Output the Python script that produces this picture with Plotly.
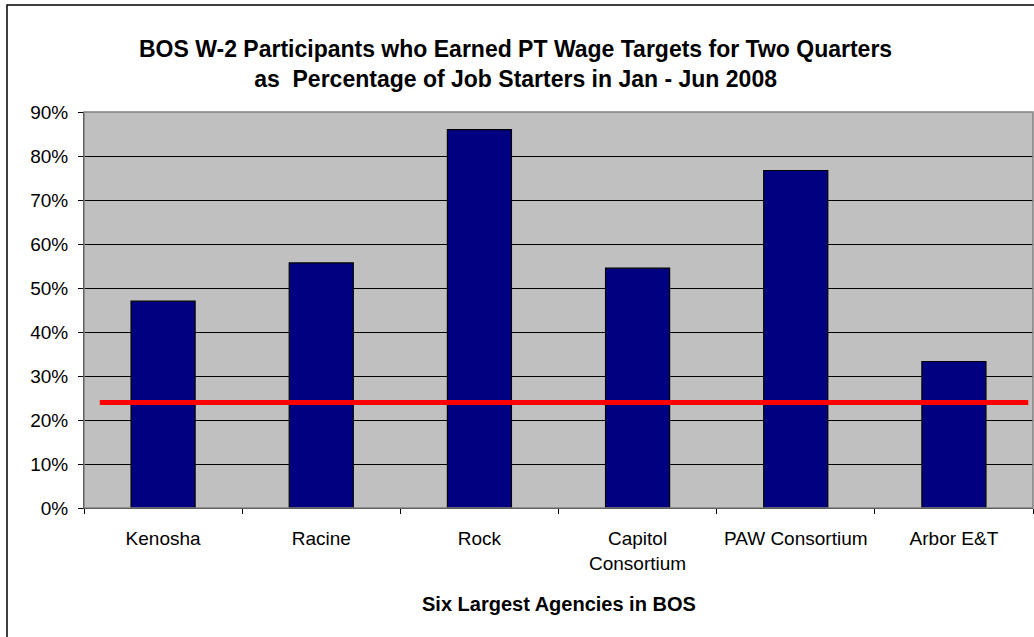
import plotly.graph_objects as go

categories = ["Kenosha", "Racine", "Rock", "Capitol<br>Consortium", "PAW Consortium", "Arbor E&T"]
rates = [0.470, 0.557, 0.860, 0.545, 0.767, 0.333]
target_rate = [0.24, 0.24]
target_span = [-0.40, 5.47]

title_text = ("<b>BOS W-2 Participants who Earned PT Wage Targets for Two Quarters<br>"
              "as  Percentage of Job Starters in Jan - Jun 2008</b>")
x_title = "<b>Six Largest Agencies in BOS</b>"
y_ticks = [i / 10 for i in range(10)]

FONT = "Liberation Sans, Arial, sans-serif"
W, H = 1034, 637
L, R, T, B = 84, 1033, 112, 508
pw, ph = R - L, B - T

fig = go.Figure()
fig.add_trace(go.Bar(
    x=categories, y=rates,
    marker=dict(color="#000080", line=dict(color="#000000", width=1.2)),
    width=0.405, showlegend=False, hoverinfo="skip",
))
fig.add_trace(go.Scatter(
    x=target_span, y=target_rate, xaxis="x2", mode="lines",
    line=dict(color="#FF0000", width=5), showlegend=False, hoverinfo="skip",
))

def px_x(p):
    return (p - L) / pw

def px_y(p):
    return (B - p) / ph

fig.update_layout(
    width=W, height=H,
    margin=dict(l=L, r=W - R, t=T, b=H - B, pad=0),
    paper_bgcolor="#FFFFFF",
    plot_bgcolor="#C0C0C0",
    font=dict(family=FONT, color="#000000", size=19),
    xaxis=dict(
        type="category", range=[-0.5, 5.5],
        showgrid=False, zeroline=False,
        showline=True, linecolor="#000000", linewidth=1,
        ticks="outside", tickson="boundaries", ticklen=5, tickcolor="#000000",
        tickfont=dict(size=19, family=FONT),
        ticklabelstandoff=13,
    ),
    xaxis2=dict(overlaying="x", range=[-0.5, 5.5], visible=False),
    yaxis=dict(
        range=[0, 0.9], tickvals=y_ticks, tickformat=".0%",
        showgrid=True, gridcolor="#000000", gridwidth=1,
        zeroline=False,
        showline=True, linecolor="#000000", linewidth=1,
        ticks="outside", ticklen=5, tickcolor="#000000",
        tickfont=dict(size=19, family=FONT),
        ticklabelstandoff=6,
    ),
    shapes=[
        dict(type="rect", xref="paper", yref="paper",
             x0=0, x1=1, y0=0, y1=1,
             line=dict(color="#808080", width=1.5), layer="above"),
        dict(type="rect", xref="paper", yref="paper",
             x0=px_x(7), x1=px_x(1045), y0=px_y(650), y1=px_y(5),
             line=dict(color="#000000", width=1.5)),
    ],
    annotations=[
        dict(text=title_text, xref="paper", yref="paper",
             x=px_x(515), y=px_y(34), xanchor="center", yanchor="top",
             showarrow=False, font=dict(size=23, family=FONT)),
        dict(text=x_title, xref="paper", yref="paper",
             x=0.5, y=px_y(604), xanchor="center", yanchor="middle",
             showarrow=False, font=dict(size=20, family=FONT)),
    ],
)

fig.write_html(
    "out.html",
    config={"displayModeBar": False, "staticPlot": True},
    post_script="document.body.style.margin='0';document.body.style.overflow='hidden';",
)
